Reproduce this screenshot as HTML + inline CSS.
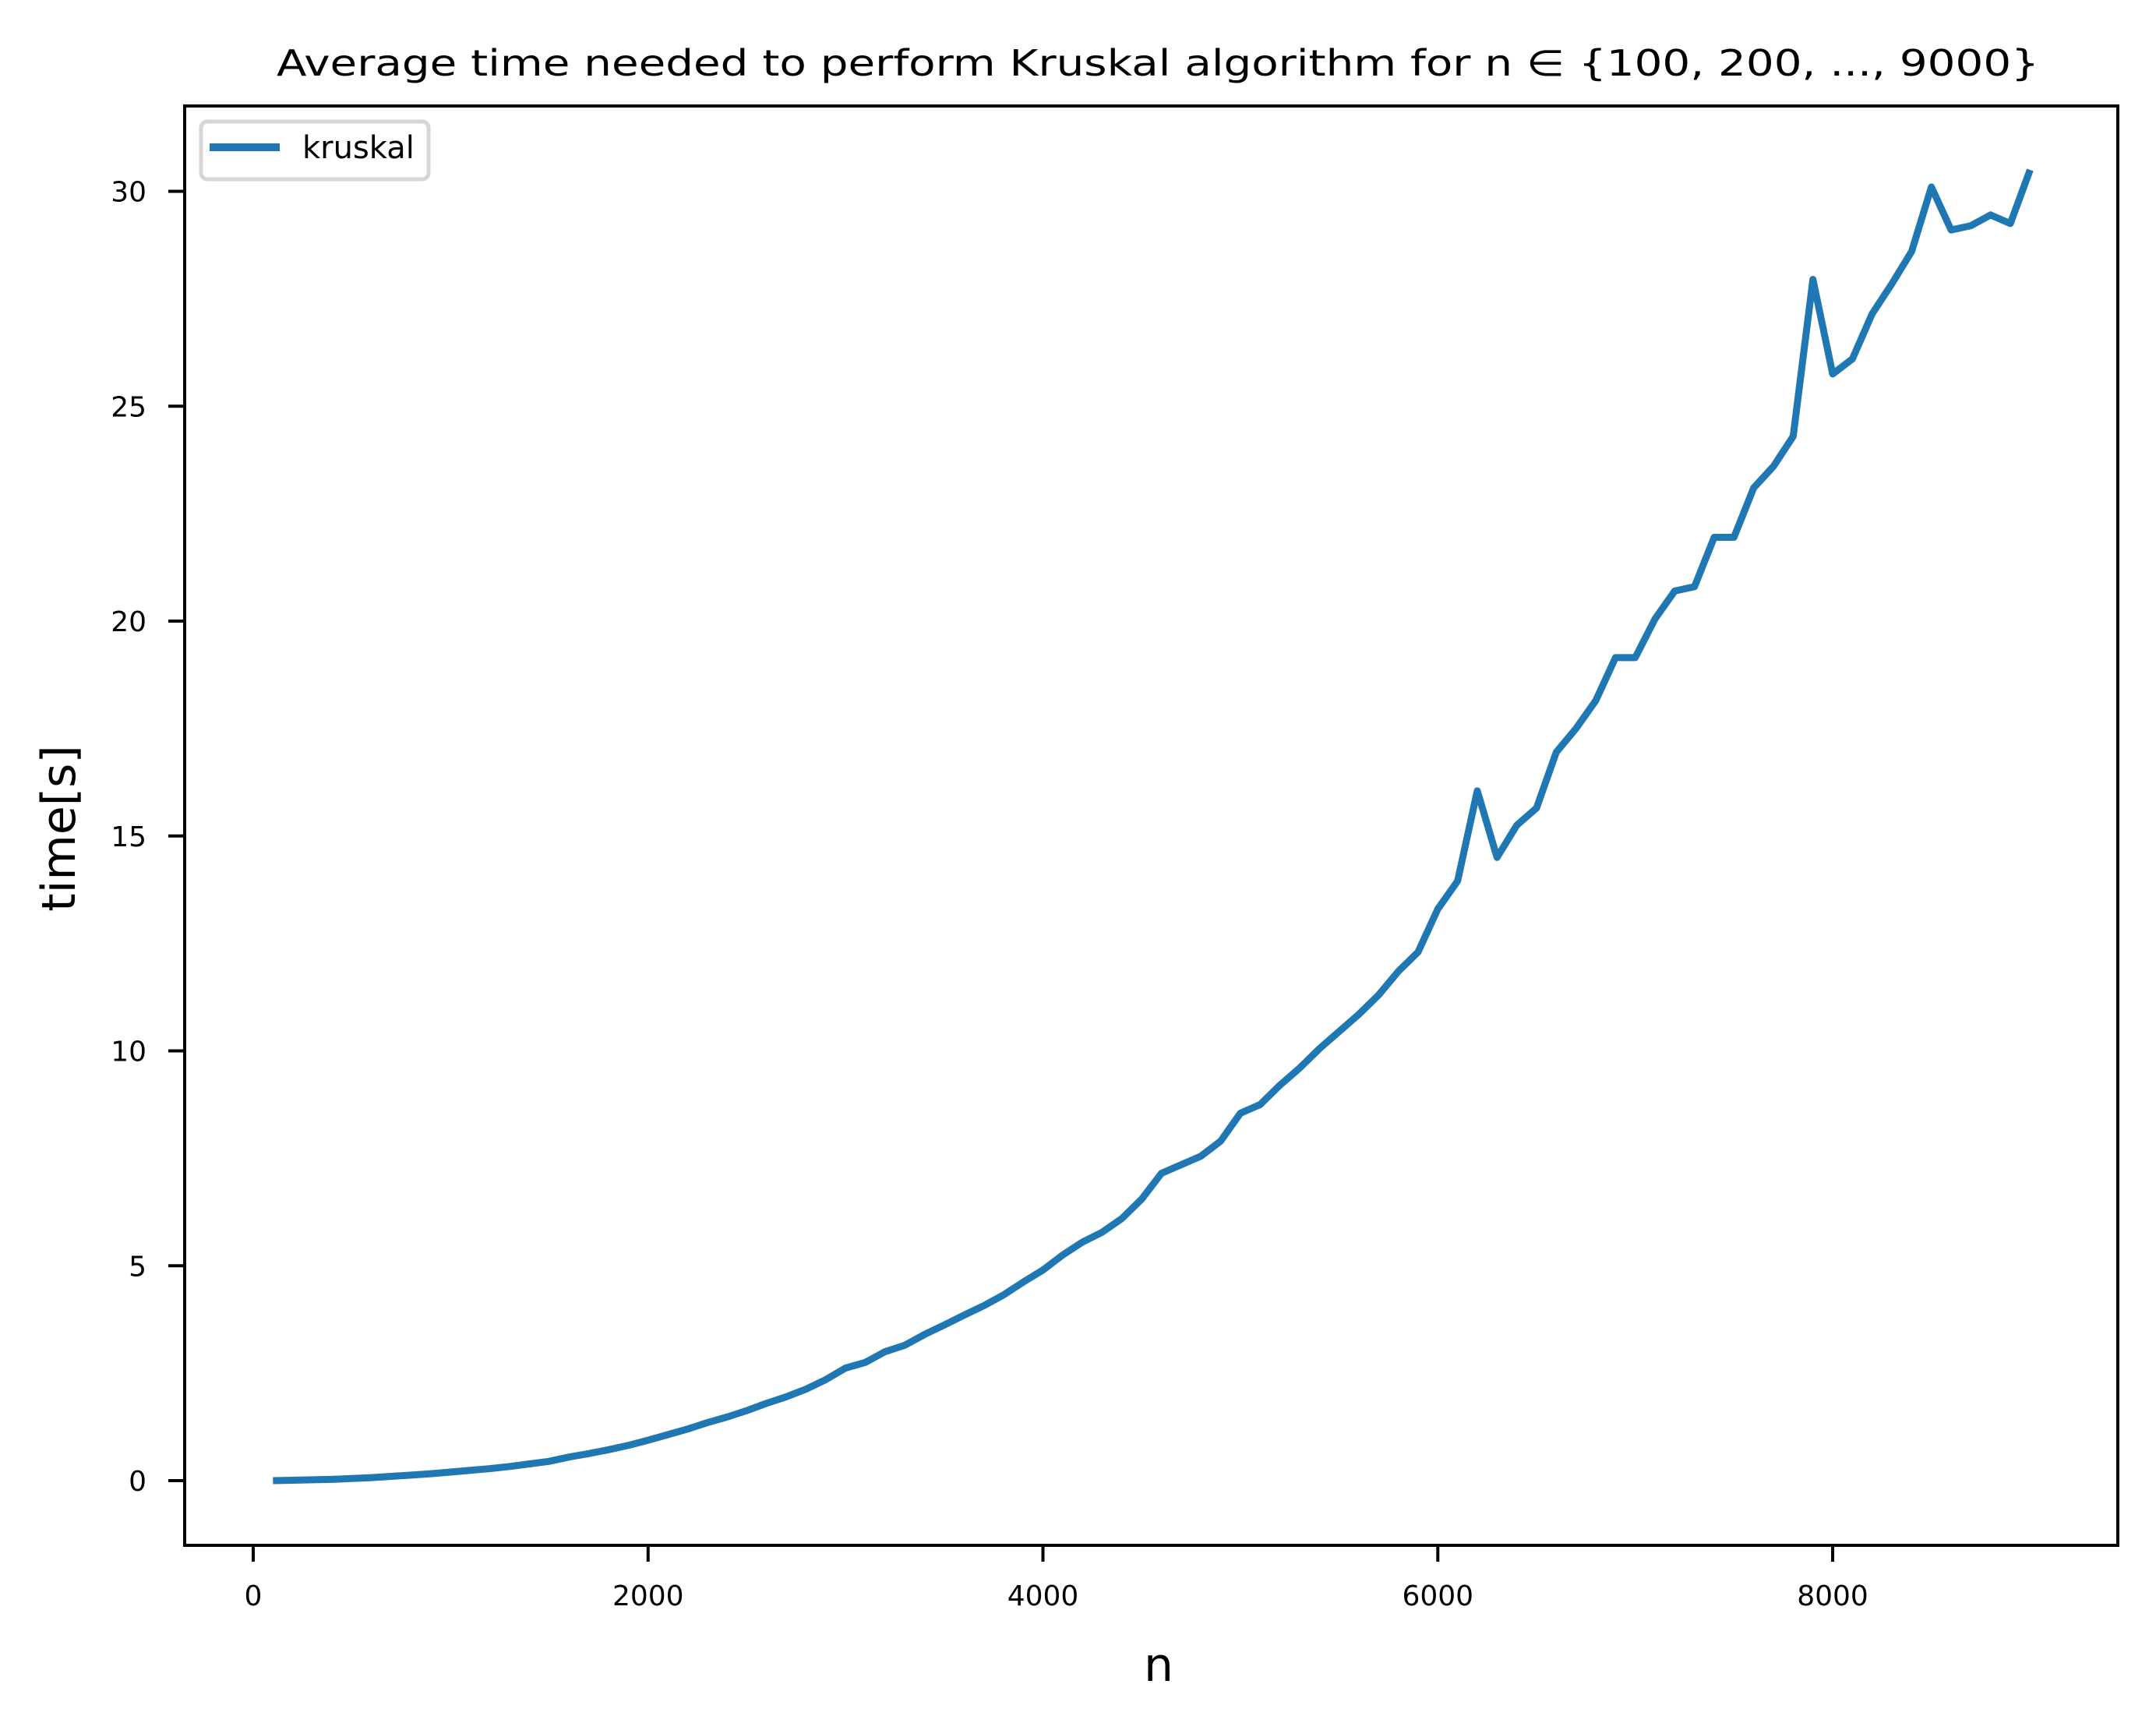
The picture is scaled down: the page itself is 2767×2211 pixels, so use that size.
<!DOCTYPE html>
<html><head><meta charset="utf-8"><style>body{margin:0;background:#fff}svg{display:block}text{font-family:"DejaVu Sans","Liberation Sans",sans-serif;fill:#000}</style></head>
<body>
<svg id="chart" width="2767" height="2211" viewBox="0 0 2767 2211" xmlns="http://www.w3.org/2000/svg">
<rect width="2767" height="2211" fill="#fff"/>
<text x="355" y="97" font-size="46" textLength="2262" lengthAdjust="spacingAndGlyphs">Average time needed to perform Kruskal algorithm for n ∈ {100, 200, ..., 9000}</text>
<g id="ticks"></g>
<polyline id="series" fill="none" stroke="#1f77b4" stroke-width="9" stroke-linejoin="round"/>
<rect x="237" y="136" width="2481" height="1847" fill="none" stroke="#000" stroke-width="4"/>
<g>
<rect x="258" y="156" width="292" height="74" rx="8" fill="#fff" stroke="#d5d5d5" stroke-width="5"/>
<line x1="269" y1="189" x2="359" y2="189" stroke="#1f77b4" stroke-width="10"/>
<text x="388" y="203" font-size="40">kruskal</text>
</g>
<text transform="translate(96,1063) rotate(-90)" text-anchor="middle" font-size="60">time[s]</text>
<text x="1487" y="2157" text-anchor="middle" font-size="60">n</text>
</svg>
<script>
const xValues=[100,200,300,400,500,600,700,800,900,1000,1100,1200,1300,1400,1500,1600,1700,1800,1900,2000,2100,2200,2300,2400,2500,2600,2700,2800,2900,3000,3100,3200,3300,3400,3500,3600,3700,3800,3900,4000,4100,4200,4300,4400,4500,4600,4700,4800,4900,5000,5100,5200,5300,5400,5500,5600,5700,5800,5900,6000,6100,6200,6300,6400,6500,6600,6700,6800,6900,7000,7100,7200,7300,7400,7500,7600,7700,7800,7900,8000,8100,8200,8300,8400,8500,8600,8700,8800,8900,9000];
const timeValues=[0,0.01,0.02,0.03,0.05,0.07,0.1,0.13,0.16,0.2,0.24,0.28,0.33,0.39,0.45,0.55,0.63,0.72,0.82,0.94,1.07,1.2,1.35,1.48,1.63,1.8,1.95,2.13,2.35,2.62,2.75,3.0,3.15,3.4,3.62,3.85,4.07,4.32,4.62,4.9,5.25,5.55,5.78,6.1,6.55,7.15,7.35,7.55,7.9,8.55,8.75,9.2,9.6,10.05,10.45,10.85,11.3,11.85,12.3,13.3,13.95,16.05,14.5,15.25,15.65,16.95,17.5,18.15,19.15,19.15,20.05,20.7,20.8,21.95,21.95,23.1,23.6,24.3,27.95,25.75,26.1,27.15,27.85,28.6,30.1,29.1,29.2,29.45,29.25,30.5];
const xTicks=[0,2000,4000,6000,8000];
const yTicks=[0,5,10,15,20,25,30];
const NS="http://www.w3.org/2000/svg";
function xs(v){return 325+v*0.25338;}
function ys(v){return 1900-v*55.15;}
document.getElementById('series').setAttribute('points',xValues.map((x,i)=>xs(x)+','+ys(timeValues[i])).join(' '));
const g=document.getElementById('ticks');
function mk(tag,attrs){const e=document.createElementNS(NS,tag);for(const k in attrs)e.setAttribute(k,attrs[k]);g.appendChild(e);return e;}
xTicks.forEach(t=>{
 const l=mk('line',{x1:xs(t),x2:xs(t),y1:1983,y2:2004,stroke:'#000','stroke-width':4});
 
 
 const tx=mk('text',{x:xs(t),y:2060,'text-anchor':'middle','font-size':36});
 
 
 tx.textContent=t;
});
yTicks.forEach(t=>{
 const l=mk('line',{x1:216,x2:237,y1:ys(t),y2:ys(t),stroke:'#000','stroke-width':4});
 
 
 const tx=mk('text',{x:188,y:ys(t)+13,'text-anchor':'end','font-size':36});
 
 
 tx.textContent=t;
});
</script>
</body></html>
